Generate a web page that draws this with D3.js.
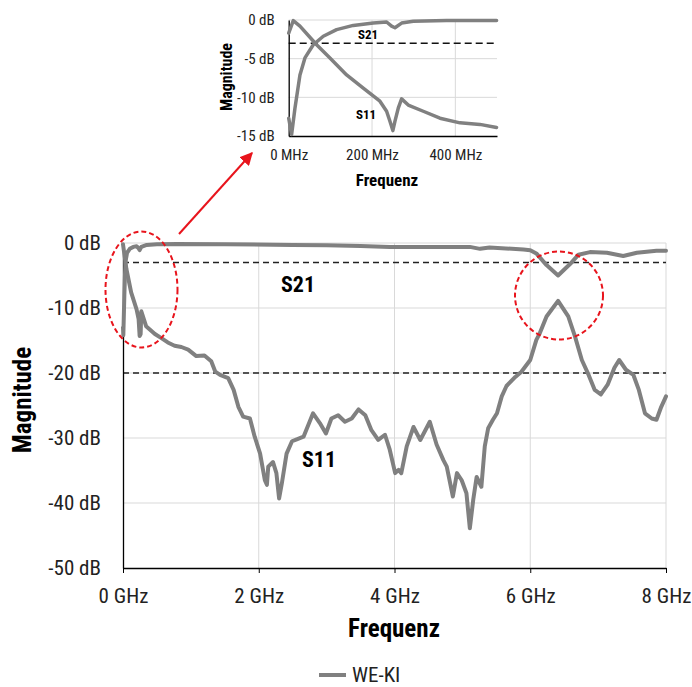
<!DOCTYPE html>
<html><head><meta charset="utf-8">
<script src="https://cdn.jsdelivr.net/npm/d3@7"></script>
<style>
body{margin:0;background:#fff;}
text{font-family:"Liberation Sans Narrow","Roboto Condensed","DejaVu Sans Condensed","Arial Narrow",sans-serif;}
</style></head><body>
<svg id="c" width="692" height="687"></svg>
<script>
// ---- data ----
const mainXTicks = [0, 2, 4, 6, 8];              // GHz
const mainYTicks = [0, -10, -20, -30, -40, -50]; // dB
const insetXTicks = [0, 200, 400];               // MHz
const insetYTicks = [0, -5, -10, -15];           // dB
const refLinesMain = [-3, -20];
const refLinesInset = [-3];
const seriesName = "WE-KI";

// main chart: [GHz, dB]
const s21Main = [[0,-13],[0.005,-14.2],[0.02,-8],[0.035,-3],[0.06,-1.5],[0.1,-0.9],[0.15,-0.6],[0.2,-0.5],[0.23,-0.8],[0.245,-1.1],[0.27,-0.6],[0.35,-0.3],[0.5,-0.2],[0.8,-0.15],[1.5,-0.2],[2.5,-0.3],[3.0,-0.35],[3.5,-0.45],[3.93,-0.6],[4.5,-0.6],[5.11,-0.6],[5.26,-0.9],[5.4,-0.7],[5.9,-1.0],[6.0,-1.1],[6.09,-1.6],[6.24,-3.4],[6.41,-5],[6.59,-3.2],[6.71,-1.8],[6.88,-1.4],[7.13,-1.5],[7.37,-2.0],[7.57,-1.5],[7.86,-1.2],[8.0,-1.2]];
const s11Main = [[0,-0.2],[0.05,-4],[0.12,-7.6],[0.2,-10.2],[0.23,-11.7],[0.245,-14.3],[0.26,-14],[0.27,-10.5],[0.34,-12.8],[0.47,-14],[0.56,-14.6],[0.66,-15.3],[0.76,-15.8],[0.86,-16],[0.96,-16.4],[1.08,-17.4],[1.2,-17.3],[1.3,-18.2],[1.36,-19.8],[1.43,-20.3],[1.55,-20.8],[1.63,-22.6],[1.7,-25.2],[1.77,-26.7],[1.87,-27],[1.94,-29.8],[2.02,-32.4],[2.09,-36.5],[2.12,-37.2],[2.14,-34.4],[2.21,-33.7],[2.26,-35.4],[2.3,-39.3],[2.34,-37],[2.41,-32.4],[2.49,-30.5],[2.56,-30.2],[2.66,-29.8],[2.73,-28],[2.8,-26.2],[2.9,-27.7],[2.99,-29.3],[3.07,-27],[3.17,-26.5],[3.27,-27.5],[3.37,-27],[3.47,-25.6],[3.57,-26.5],[3.66,-28.8],[3.76,-30.3],[3.86,-29.5],[3.93,-31.8],[4.01,-35.4],[4.06,-34.9],[4.1,-35.4],[4.18,-31.3],[4.28,-28.3],[4.38,-30.3],[4.52,-27.5],[4.62,-31],[4.72,-33.4],[4.77,-34.4],[4.86,-39],[4.92,-35.4],[4.99,-36.5],[5.06,-38.5],[5.11,-43.9],[5.16,-39.5],[5.21,-36],[5.28,-37.5],[5.33,-31.3],[5.38,-28.5],[5.45,-27.2],[5.51,-26.2],[5.58,-23.6],[5.65,-22],[5.78,-20.6],[5.87,-19.8],[6.0,-18],[6.09,-14.9],[6.14,-13.9],[6.24,-11.3],[6.41,-8.9],[6.56,-11.3],[6.66,-14.4],[6.76,-18],[6.86,-20.3],[6.95,-22.6],[7.04,-23.3],[7.14,-21.8],[7.24,-19.2],[7.31,-18],[7.41,-19.5],[7.52,-20.3],[7.6,-22.6],[7.69,-26.2],[7.79,-27],[7.86,-27.2],[7.93,-25.2],[8.0,-23.6]];

// inset chart: [MHz, dB]
const s21Inset = [[0,-12.7],[7,-14.8],[15,-11.4],[27,-7.1],[39,-4.9],[59,-3.2],[83,-2.1],[115,-1.25],[155,-0.7],[203,-0.4],[235,-0.26],[247,-0.8],[255,-1.0],[271,-0.4],[299,-0.17],[379,-0.08],[499,-0.08]];
const s11Inset = [[0,-1.7],[11,-0.08],[27,-0.8],[67,-3.2],[99,-4.9],[139,-7.1],[179,-8.8],[219,-10.5],[235,-11.8],[243,-13.1],[250,-14.3],[255,-13.1],[263,-11.4],[271,-10.2],[287,-11],[323,-11.8],[363,-12.7],[411,-13.3],[459,-13.5],[499,-13.9]];

// ---- drawing ----
const svg = d3.select("#c");
const GRAY = "#808080", GRID = "#d9d9d9", RED = "#e8141c";

// main
const x = d3.scaleLinear().domain([0, 8]).range([123, 666]);
const y = d3.scaleLinear().domain([-50, 0]).range([568, 243]);
const g = svg.append("g");

g.selectAll(".vg").data(mainXTicks.slice(1)).join("line")
  .attr("x1", d => x(d)).attr("x2", d => x(d)).attr("y1", y(0)).attr("y2", y(-50))
  .attr("stroke", GRID).attr("stroke-width", 1);
g.selectAll(".hg").data(mainYTicks.slice(0, -1)).join("line")
  .attr("x1", x(0)).attr("x2", x(8)).attr("y1", d => y(d)).attr("y2", d => y(d))
  .attr("stroke", GRID).attr("stroke-width", 1);
g.selectAll(".ref").data(refLinesMain).join("line")
  .attr("x1", x(0)).attr("x2", x(8)).attr("y1", d => y(d)).attr("y2", d => y(d))
  .attr("stroke", "#222").attr("stroke-width", 1.3).attr("stroke-dasharray", "6,4");

const xAxis = g.append("g").attr("transform", `translate(0,${y(-50)})`)
  .call(d3.axisBottom(x).tickValues(mainXTicks).tickFormat(d => d + " GHz").tickSize(5).tickPadding(15).tickSizeOuter(0));
xAxis.select(".domain").attr("stroke", "#000").attr("stroke-width", 1.3);
xAxis.selectAll(".tick line").attr("stroke", "#000");
xAxis.selectAll("text").attr("font-size", 21).attr("fill", "#222");

const yAxis = g.append("g").attr("transform", `translate(${x(0)},0)`)
  .call(d3.axisLeft(y).tickValues(mainYTicks).tickFormat(d => d + " dB").tickSize(0).tickPadding(22));
yAxis.select(".domain").attr("stroke", "#000").attr("stroke-width", 1.3);
yAxis.selectAll("text").attr("font-size", 21).attr("fill", "#222");

const line = d3.line().x(d => x(d[0])).y(d => y(d[1]));
g.append("path").datum(s11Main).attr("d", line).attr("fill", "none")
  .attr("stroke", GRAY).attr("stroke-width", 4).attr("stroke-linejoin", "round").attr("stroke-linecap", "round");
g.append("path").datum(s21Main).attr("d", line).attr("fill", "none")
  .attr("stroke", GRAY).attr("stroke-width", 4).attr("stroke-linejoin", "round").attr("stroke-linecap", "round");

g.append("text").attr("x", 298).attr("y", 292).attr("text-anchor", "middle")
  .attr("font-size", 22).attr("font-weight", "bold").text("S21");
g.append("text").attr("x", 319).attr("y", 467).attr("text-anchor", "middle")
  .attr("font-size", 22).attr("font-weight", "bold").text("S11");

g.append("text").attr("transform", "translate(31,400) rotate(-90)").attr("text-anchor", "middle")
  .attr("font-size", 25).attr("font-weight", "bold").text("Magnitude");
g.append("text").attr("x", 394).attr("y", 637).attr("text-anchor", "middle")
  .attr("font-size", 25).attr("font-weight", "bold").text("Frequenz");

// red highlights
g.append("ellipse").attr("cx", 141.5).attr("cy", 289.5).attr("rx", 36).attr("ry", 58)
  .attr("fill", "none").attr("stroke", RED).attr("stroke-width", 2).attr("stroke-dasharray", "5,3");
g.append("ellipse").attr("cx", 559).attr("cy", 295.5).attr("rx", 44).attr("ry", 44)
  .attr("fill", "none").attr("stroke", RED).attr("stroke-width", 2).attr("stroke-dasharray", "5,3");
svg.append("defs").append("marker").attr("id", "ah").attr("viewBox", "0 0 10 10")
  .attr("refX", 9).attr("refY", 5).attr("markerWidth", 6.5).attr("markerHeight", 6.5).attr("orient", "auto")
  .append("path").attr("d", "M0,0L10,5L0,10z").attr("fill", RED);
g.append("line").attr("x1", 179).attr("y1", 234).attr("x2", 252).attr("y2", 153)
  .attr("stroke", RED).attr("stroke-width", 2).attr("marker-end", "url(#ah)");

// legend
const lg = svg.append("g");
lg.append("line").attr("x1", 319).attr("x2", 346).attr("y1", 675).attr("y2", 675)
  .attr("stroke", GRAY).attr("stroke-width", 4);
lg.append("text").attr("x", 352).attr("y", 682).attr("font-size", 21).attr("fill", "#222").text(seriesName);

// inset
const xi = d3.scaleLinear().domain([0, 500]).range([288.7, 497]);
const yi = d3.scaleLinear().domain([-15, 0]).range([136, 20]);
const gi = svg.append("g");
gi.selectAll(".vg").data(insetXTicks.slice(1)).join("line")
  .attr("x1", d => xi(d)).attr("x2", d => xi(d)).attr("y1", yi(0)).attr("y2", yi(-15))
  .attr("stroke", GRID);
gi.selectAll(".hg").data(insetYTicks.slice(0, -1)).join("line")
  .attr("x1", xi(0)).attr("x2", xi(500)).attr("y1", d => yi(d)).attr("y2", d => yi(d))
  .attr("stroke", GRID);
gi.selectAll(".ref").data(refLinesInset).join("line")
  .attr("x1", xi(0)).attr("x2", xi(500)).attr("y1", d => yi(d)).attr("y2", d => yi(d))
  .attr("stroke", "#111").attr("stroke-width", 1.6).attr("stroke-dasharray", "7,4");
const xai = gi.append("g").attr("transform", `translate(0,${yi(-15)})`)
  .call(d3.axisBottom(xi).tickValues(insetXTicks).tickFormat(d => d + " MHz").tickSize(0).tickPadding(13));
xai.select(".domain").attr("stroke", "#000").attr("stroke-width", 1.3);
xai.selectAll("text").attr("font-size", 15).attr("fill", "#222");
const yai = gi.append("g").attr("transform", `translate(${xi(0)},0)`)
  .call(d3.axisLeft(yi).tickValues(insetYTicks).tickFormat(d => d + " dB").tickSize(0).tickPadding(14));
yai.select(".domain").attr("stroke", "#000").attr("stroke-width", 1.3);
yai.selectAll("text").attr("font-size", 15).attr("fill", "#222");
const linei = d3.line().x(d => xi(d[0])).y(d => yi(d[1]));
[s11Inset, s21Inset].forEach(s => gi.append("path").datum(s).attr("d", linei).attr("fill", "none")
  .attr("stroke", GRAY).attr("stroke-width", 3.5).attr("stroke-linejoin", "round").attr("stroke-linecap", "round"));
gi.append("text").attr("x", 368).attr("y", 39).attr("text-anchor", "middle")
  .attr("font-size", 13).attr("font-weight", "bold").text("S21");
gi.append("text").attr("x", 366).attr("y", 119).attr("text-anchor", "middle")
  .attr("font-size", 13).attr("font-weight", "bold").text("S11");
gi.append("text").attr("transform", "translate(232,77) rotate(-90)").attr("text-anchor", "middle")
  .attr("font-size", 16).attr("font-weight", "bold").text("Magnitude");
gi.append("text").attr("x", 387).attr("y", 186).attr("text-anchor", "middle")
  .attr("font-size", 17).attr("font-weight", "bold").text("Frequenz");
</script>
</body></html>
